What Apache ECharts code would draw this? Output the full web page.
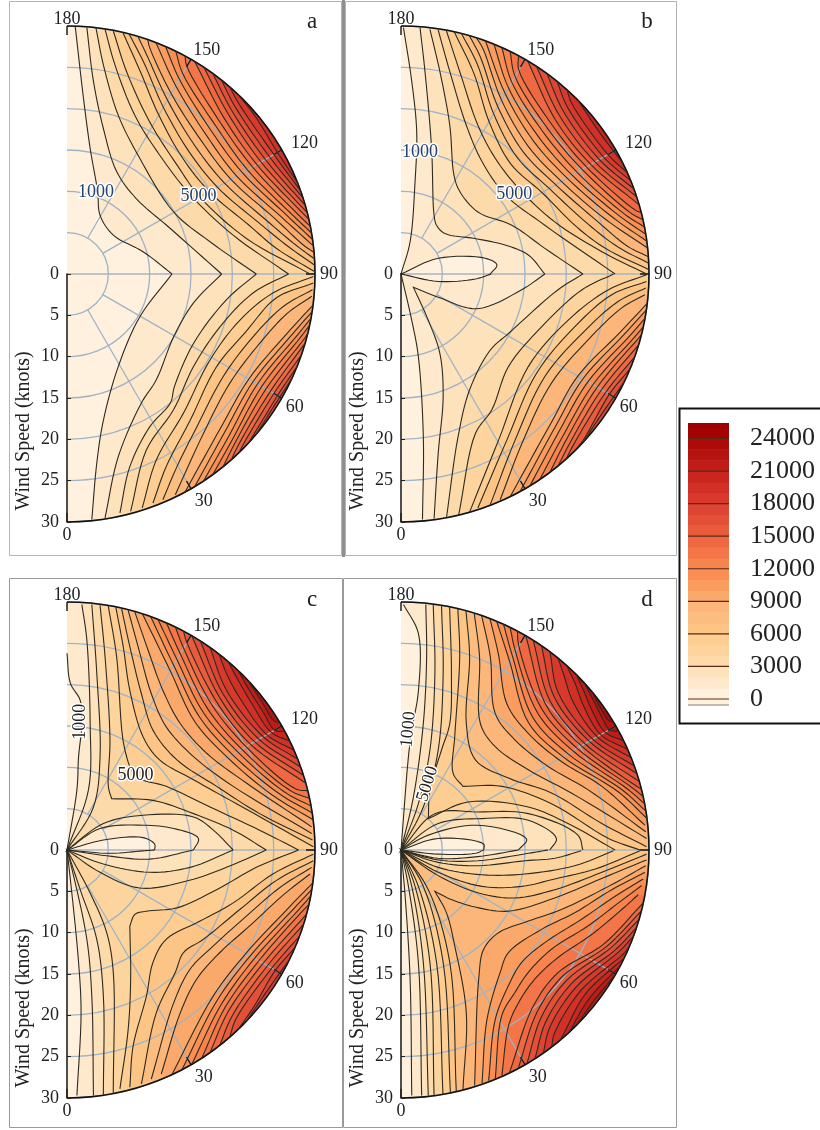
<!DOCTYPE html>
<html><head><meta charset="utf-8">
<style>html,body{margin:0;padding:0;background:#fff}#c{width:820px;height:1130px}</style>
<script src="https://cdn.jsdelivr.net/npm/echarts@6/dist/echarts.min.js"></script>
</head><body><div id="c"></div>
<script>
// Angle and speed ticks
const angleTicks=[0,30,60,90,120,150,180];
const speedTicks=[0,5,10,15,20,25,30];
const spokeAngles=[30,60,120,150];
const legendTicks=[0,3000,6000,9000,12000,15000,18000,21000,24000];
// Where each angle label sits: speed, angle
const angleLabelSpots=[[31.6,0],[32.1,31],[31.9,59.7],[31.7,90],[32.8,118.8],[31.9,148],[30.8,180]];
// One band colour per 1000 of the field value
const bandColors=['#fff1dd','#fee9cc','#fee2bb','#fddaa9','#fdd49d','#fdcd91','#fdc585','#fcbe80','#fcb679','#fba96b','#fb9c5f','#f98f54','#f7834d','#f47548','#ef6842','#ea5b3c','#e44f38','#de4433','#d9392d','#d22f26','#ca251f','#c01b17','#b71310','#ad0b08','#a30403','#9c0000'];
// Inner contours: row n is level (n+1)*1000, as x,y,x,y... wind components in knots
// (x = beam component, y = positive towards 180). A repeated point is a corner.
// The *Outer lists carry on with the next levels, as speed,angle,speed,angle...
const aUpper=[
[1,29.9,2,21.2,2.8,15.2,3.7,10,4,7.1,5.6,4.7,9.2,2.7,12.7,0],
[2.4,29.8,3.2,23.3,4.4,17.6,6,12.4,8.4,9.1,12.5,5.5,18.7,0],
[3.5,29.8,4.4,25.3,6.2,19.2,8.8,14,12.9,7.5,17.3,3.9,22.9,0],
[4.6,29.6,5.8,25.3,8.2,19.2,11.2,14.4,14.9,9.6,20.1,4.7,26.8,0],
[5.6,29.4,7.2,24.5,10,18.4,13.3,13.2,16.1,9.3,21.7,4.3,29.4,0]];
const aUpperOuter=[
[30,167,26,160,22.2,150,19.8,135,19.9,120,22.8,105,25.5,97,30,90.5],
[30,165.5,27.2,160,23.3,150,20.9,135,21,120,24,105,27,97,30,92],
[30,163.4,28.2,160,24.3,150,21.9,135,22,120,25,105,28,97,30,93.5],
[30,161,29.2,160,25.2,150,22.9,135,22.9,120,26,105,28.8,97,30,95],
[30,159,26.3,150,23.8,135,23.7,120,26.8,105,30,96.5],
[30,156.6,27.2,150,24.6,135,24.5,120,27.5,105,30,98],
[30,154,28,150,25.4,135,25.2,120,28.1,105,30,99.5],
[30,151.6,29,150,26.1,135,25.9,120,28.7,105,30,101],
[30,149,26.8,135,26.5,120,29.3,105,30,102.7],
[30,146.5,27.5,135,27.1,120,29.8,105,30,104.3],
[30,144,28.1,135,27.7,120,30,106],
[30,141.5,28.7,135,28.3,120,30,107.8],
[30,139,29.3,135,28.9,120,30,109.6],
[30,136.5,29.7,130,29.4,120,30,111.5]];
const aLower=[
[12.7,0,8.8,-5.2,6.2,-11.2,4.4,-17.7,3.6,-22.9,3,-29.7],
[18.7,0,15.3,-3.5,12.9,-7.6,10.8,-12.8,9,-15.6,6.2,-22.1,4.6,-29.5],
[22.9,0,19.3,-3.1,15.3,-8.4,13,-13.6,12.5,-15.6,10,-18.5,7.6,-23.3,6.4,-28.9],
[26.8,0,22.5,-2.3,18.5,-6.4,15.3,-11.2,12.9,-16.4,9.6,-21.3,7.7,-28.7],
[29.8,-.3,24.9,-2.3,20.9,-5.6,17.3,-10.4,14.1,-16.8,10.8,-22.5,9.1,-28.3],
[29.8,-1.1,25.3,-2.9,21.7,-6.9,18.1,-11.2,14.9,-17.7,12,-23.3,10.4,-27.7],
[29.7,-1.9,26.2,-3.9,22.5,-7.6,18.9,-12.4,15.7,-18.5,13.3,-23.3,11.6,-27.3],
[29.6,-2.7,26.6,-4.8,23.3,-8.4,19.7,-13.2,16.5,-19.3,13.1,-26.7]];
const aLowerOuter=[
[30,82.8,27.6,75,25.4,60,26.3,45,30,28.4],
[30,81.3,28.2,75,26,60,27,45,30,31],
[30,79.7,28.8,75,26.6,60,27.7,45,30,33.4],
[30,78.1,29.3,75,27.2,60,28.3,45,30,36],
[30,76.2,29.8,75,27.8,60,28.8,45,30,39],
[30,73.8,28.4,60,29.3,45,30,41.5],
[30,70.9,28.9,60,29.8,45,30,44],
[30,68.1,29.4,60,29.6,52,30,47],
[30,65.1,29.7,57,30,49.8]];
const bUpper=[
[.3,29.8,1.3,23.3,1.9,17.2,1.7,11.2,1.1,3.9,0,0,0,0,4.5,1.9,10.2,1.9,11.6,1.1,10.8,0],
[2.3,29.8,2.9,24.5,3.7,15.2,4,7.1,4.3,5.9,5.3,4.9,8.9,4.3,12.6,3.5,15.4,2.3,17.4,0],
[3.5,29.6,4.7,24.5,5.9,18,6.4,12,7.1,10,9.3,7.5,13.4,5.9,17.4,3.1,22,0],
[4.5,29.5,5.9,24.5,7.9,18,9.8,13.6,12.6,9.6,17.4,5.9,25.9,0],
[5.5,29.4,7.1,24.5,9.3,18,11.4,14,14.2,10.4,18.6,6.3,24.3,2.7,29.7,0]];
const bUpperOuter=[
[30,167.6,25.8,160,21.3,150,18.8,135,19.7,120,22,105,25,97,30,91],
[30,165.9,27,160,22.4,150,19.9,135,20.7,120,23.4,105,26.5,97,30,92.5],
[30,164,28,160,23.4,150,20.9,135,21.6,120,24.6,105,27.6,97,30,94],
[30,162.3,29,160,24.3,150,21.8,135,22.4,120,25.6,105,30,96],
[30,160.1,25.2,150,22.7,135,23.2,120,26.5,105,30,97.6],
[30,158,26,150,23.5,135,23.9,120,27.3,105,30,99.2],
[30,156,26.8,150,24.3,135,24.6,120,28,105,30,100.9],
[30,153.9,27.6,150,25,135,25.3,120,28.7,105,30,102.6],
[30,151.7,28.5,150,25.7,135,25.9,120,29.5,105,30,104.4],
[30,149.3,26.4,135,26.5,120,30,106.2],
[30,146.9,27.1,135,27.1,120,30,108.1],
[30,144,27.8,135,27.7,120,30,110],
[30,141,28.5,135,28.3,120,30,112],
[30,138,29.2,135,28.9,120,30,114.1],
[30,134.5,29.5,125,30,116.5]];
const bLower=[
[10.9,0,9,-.6,4.5,-.9,0,0,0,0,1.3,-5.6,2.1,-10,2.7,-19.7,2.6,-29.7],
[17.4,0,14.6,-1.9,9.2,-4.2,4.5,-2.8,1.5,-1.6,1.5,-1.6,3.3,-5.6,4.7,-9.6,5.1,-14.8,4.5,-21.7,4,-29.6],
[22,0,19,-1.9,13,-7.2,10.8,-9.2,8.3,-14,6.9,-19.7,5.5,-29.5],
[25.7,0,21.9,-1.9,17,-6.4,13,-11.2,11,-16.4,9,-19.3,7,-29.3],
[29.7,-.1,25.1,-1.9,20.2,-5.6,15.4,-11.2,11.8,-20.1,8.3,-28.9],
[29.7,-.9,25.5,-2.5,21,-6.4,16.4,-12,12.8,-20.1,9.3,-28.3],
[29.6,-1.7,26.3,-3.3,21.9,-7.2,17.4,-12.4,13.8,-20.1,10.8,-27.9],
[29.5,-2.5,26.7,-4.1,22.6,-8,18.2,-13.2,14.8,-20.1,12,-27.3]];
const bLowerOuter=[
[30,83.2,27.4,75,24.7,60,25.6,45,30,26.1],
[30,81.7,28,75,25.4,60,26.3,45,30,28.7],
[30,79.7,28.7,75,26.1,60,27,45,30,31.3],
[30,77.7,29.3,75,26.8,60,27.7,45,30,34],
[30,75.8,29.8,75,27.4,60,28.3,45,30,36.9],
[30,73.4,28,60,28.9,45,30,39.3],
[30,70.5,28.6,60,29.4,45,30,41.8],
[30,67.6,29.1,60,29.8,48,30,44.4],
[30,64.3,29.6,55,30,47.4]];
const cUpper=[
[0,23.8,.4,20.2,1.6,18.1,1.8,15.3,1.4,11.3,1.2,7.3,0,0,0,0,4.4,1.2,9.2,1.5,10.6,.7,10.6,0],
[1.8,29.7,2.4,25.4,2.8,15.3,2.6,7.3,0,0,0,0,4,2.6,9.2,3,12.9,2.6,15.9,1.4,15.3,0],
[3,29.7,3.6,21.4,4,11.3,3.2,5.2,0,0,0,0,4.4,3.2,9.2,4.2,15.3,4,17.7,2.4,20.1,0],
[4,29.6,4.6,23.4,5.2,13.3,5,7.7,5.4,6.2,5.4,6.2,10.4,6,15.3,4.4,20.1,2.4,24.1,0],
[5,29.5,6,23.4,7,12.1,8.4,8.9,12,7.7,17.3,5.2,23.3,2.4,28,0],
[5.9,29.4,6.8,24.6,7.6,19.3,9.2,13.7,11.2,10.9,15.3,8.5,20.5,5.6,29.8,.4],
[6.6,29.2,7.6,24.6,9,18.9,10.4,14.5,13.3,10.9,18.1,7.7,23.3,4.4,29.7,1.2],
[7.4,29,8.6,24.6,10.2,18.9,12,14.9,15.3,11.3,20.1,7.7,29.6,2],
[8.2,28.8,9.8,24.2,11.6,19.3,13.7,15.3,16.9,11.7,21.7,8.1,29.6,2.8]];
const cUpperOuter=[
[30,162.3,25,150,21.9,135,22.4,120,25.7,105,30,97],
[30,160.3,25.8,150,22.7,135,23.1,120,26.5,105,30,98.6],
[30,158.5,26.6,150,23.4,135,23.8,120,27.2,105,30,100.2],
[30,156.4,27.4,150,24.1,135,24.4,120,27.9,105,30,102],
[30,154.1,28.2,150,24.8,135,25,120,28.6,105,30,103.8],
[30,152,29,150,25.5,135,25.6,120,30,105.6],
[30,149.8,26.1,135,26.2,120,30,107.5],
[30,147.5,26.7,135,26.8,120,30,109.5],
[30,144.8,27.3,135,27.4,120,30,111.5],
[30,142.2,28.8,138,27.9,132,27.9,120,30,113.7],
[30,139.5,29.2,135,28.5,128,28.5,120,30,116],
[30,136.4,29.4,132,29,125,29,120,30,118.5],
[30,133.1,29.6,127,29.5,122,30,121]];
const cLower=[
[10.6,0,9.2,-.1,5.2,-.4,0,0,0,0,.4,-3.5,1.4,-13.6,1.7,-19.7,1.2,-29.7],
[15.3,0,10,-1.1,4.8,-.7,0,0,0,0,.6,-2.3,2.4,-10.8,3,-17.7,3.2,-29.7],
[20.1,0,14.9,-2.1,10,-2.7,4.4,-1.7,0,0,0,0,1.6,-4.8,3.6,-10.8,4.4,-17.7,4.4,-29.7],
[24.1,0,19.3,-2.1,14.7,-3.7,8.8,-4.6,4,-2.7,0,0,0,0,2.8,-5.2,4.8,-10,5.6,-14.8,5.6,-29.5],
[28,0,22.9,-2.1,18.1,-4.8,13.3,-7,9.6,-7.4,8.2,-7.8,7.6,-9.2,7.6,-9.2,7.7,-15.6,7.4,-21.7,6.4,-28.9],
[29.8,-.5,24.9,-2.9,20.1,-6.4,16.1,-8.6,12,-10.8,10.4,-13.6,9.6,-17.7,8,-23.7,7.6,-28.7],
[29.8,-1.3,25.3,-3.7,20.9,-7.2,16.5,-10.8,14.1,-12.4,13.1,-14.8,10.8,-19.7,9,-28.3],
[29.6,-2.1,25.8,-4.5,21.7,-8,17.7,-11.6,14.9,-14.4,12.9,-18.5,10.2,-27.7],
[29.4,-2.9,26.2,-5.4,22.3,-9,18.5,-12.4,15.7,-15.6,13.7,-19.7,11.4,-27.1]];
const cLowerOuter=[
[30,82.4,27.6,75,25,60,25,45,30,25],
[30,80.9,28.2,75,25.6,60,25.7,45,30,27.6],
[30,79.3,28.8,75,26.2,60,26.4,45,30,30.2],
[30,77.3,29.3,75,26.8,60,27,45,30,32.9],
[30,75,27.4,60,27.6,45,30,35.2],
[30,72.6,28,60,28.3,45,30,38],
[30,69.7,28.6,60,28.9,45,30,41],
[30,66.8,29.1,60,29.5,50,30,43.6],
[30,63.8,29.6,56,30,46.3]];
const dUpper=[
[.3,29.7,2.1,26.2,2.1,19.2,1.3,14.5,.9,11.3,0,0,0,0,4.5,1.4,10,.7,10,0],
[3,29.7,3.1,23.4,2.7,15.3,1.5,6.4,0,0,0,0,3.3,1.8,9.3,3,15.2,1.3,14.2,0],
[3.9,29.7,4.1,21.4,3.5,12.1,2.1,5.6,0,0,0,0,4.5,3.2,9.8,3.8,15.4,3.6,18.8,1.4,18,0],
[4.9,29.6,5.1,21.4,4.5,12.1,2.7,5.2,0,0,0,0,4.1,4.4,9.3,4.6,15.4,4.4,21.4,1.8,22,0],
[5.9,29.5,6.1,21.4,5.9,15.3,4.9,12.1,3.5,7.3,3.3,3.8,3.3,3.8,8.1,5.8,15.4,5.2,20.2,3.2,25.9,0],
[6.9,29.3,7.1,23.4,6.5,13.7,6.3,9.3,7.5,7.7,7.5,7.7,12.2,7.7,18.2,5.6,25.1,1.4,28.9,0],
[7.9,29.1,8.3,23.4,7.9,15.3,9,10.9,13,8.7,18.2,6.9,24.3,3.2,29.7,.4],
[8.9,28.8,9.5,23.4,9.6,15.3,11.4,12.5,15.4,9.7,20.6,6.9,29.7,1.4],
[9.8,28.5,10.8,23.4,11.4,16.5,13.8,13.3,17.8,10.1,22.6,7.3,29.6,2.2],
[10.8,28.1,11.8,23.6,12.8,17.7,15.4,14.1,19.4,10.7,24.3,7.7,29.5,3]];
const dUpperOuter=[
[30,157.3,26.3,150,21.8,135,22.6,120,27.2,105,30,97.3],
[30,155.6,27,150,22.6,135,23.3,120,27.8,105,30,99],
[30,153.9,27.7,150,23.4,135,24,120,28.4,105,30,100.7],
[30,152,28.5,150,24.1,135,24.6,120,29,105,30,102.4],
[30,149.8,24.8,135,25.2,120,29.6,105,30,104.2],
[30,147.8,25.5,135,25.7,120,30,106],
[30,145.5,26.2,135,26.3,120,30,107.9],
[30,143.1,26.9,135,26.8,120,30,109.8],
[30,140.7,28.9,137,27.5,131,27.4,120,30,111.8],
[30,138.2,29.2,134,28.1,128,27.9,120,30,113.9],
[30,135,29.3,131,28.6,126,28.5,120,30,116.1],
[30,132.3,29.5,128,29.1,123,29.1,120,30,118.5],
[30,129.5,29.6,125,29.6,122,30,121]];
const dLower=[
[10,0,9,-.4,4.5,-.5,0,0,0,0,.5,-5.6,1.1,-15.6,1.3,-29.7],
[14.2,0,9.3,-.8,4.5,-1,0,0,0,0,.9,-4.4,2.1,-13.6,2.5,-29.7],
[17.8,0,15.4,-.4,9.3,-1.3,4.5,-1.2,0,0,0,0,1.3,-4.4,2.7,-13.6,3.3,-29.7],
[21.8,-.1,18.6,-1,15,-1.3,9.3,-1.9,4.5,-1.5,0,0,0,0,1.7,-4.4,3.5,-13.6,4,-29.7],
[25.7,-.1,21,-1.9,15,-2.9,9.8,-3,4.5,-2.1,0,0,0,0,2.1,-4.4,4.3,-13.6,5.1,-29.7],
[28.9,-.1,23.5,-2.3,18.6,-3.5,14.6,-4.4,9.8,-4.4,4.5,-2.7,0,0,0,0,2.7,-4.4,5.1,-13.6,6,-29.5],
[29.7,-.5,24.3,-2.7,18.6,-4.8,13.8,-5.8,9.4,-5.2,4.5,-3.1,0,0,0,0,3.3,-4.8,5.9,-13.6,6.7,-29.3],
[29.7,-1.2,25.1,-3.1,18.6,-5.8,13,-7.4,9.4,-7,6.1,-6,4.1,-5,4.1,-5,5.5,-7.6,6.5,-11.6,7.9,-19.7,7.5,-28.9],
[29.6,-1.9,25.1,-4.4,19.4,-7.2,15.4,-8.6,11.8,-10,10,-12,9.4,-15.6,8.9,-28.5],
[29.5,-2.7,25.5,-4.8,21,-7.6,17,-9.6,13,-12.4,12,-14.8,10.4,-20.5,9.8,-28.2],
[29.3,-3.5,25.9,-5.6,21.8,-8.4,17.4,-11.2,14.6,-13.6,13,-16.4,11.4,-20.5,10.6,-27.9],
[29.1,-4.3,26.3,-6.4,22.6,-9.2,18.2,-12,15.4,-14.8,13.8,-17.2,12.2,-20,11.4,-27.7],
[28.7,-5.4,26.7,-7.2,23.1,-10.2,19,-13,16.2,-15.6,14.2,-18.5,13,-21.3,12.2,-27.3]];
const dLowerOuter=[
[30,77.7,27,65,24.1,52,24.8,40,30,25.9],
[30,75.8,27.5,65,24.8,52,25.6,40,30,28.2],
[30,73.8,28,65,25.5,52,26.4,40,30,30.5],
[30,71.8,28.6,65,26.2,52,27.2,40,30,32.7],
[30,69.7,29.1,65,26.9,52,28,40,30,35],
[30,67.2,29.7,65,27.6,52,28.9,40,30,37.4],
[30,64.3,28.3,52,29.6,42,30,40],
[30,62.1,29,52,30,42.6],
[30,59.9,29.6,52,30,45.3]];
// Contour labels: text, x, y (knots), rotation in degrees
const labelsA=[['1000',3.5,9.9,0],['5000',15.9,9.4,0]];
const labelsB=[['1000',2.3,14.7,0],['5000',13.7,9.6,0]];
const labelsC=[['1000',1.6,15.5,90],['5000',8.3,9,0]];
const labelsD=[['1000',.9,14.6,85],['5000',3.2,8,72]];
const panelLetters=['a','b','c','d'];
const panelData=[
 [aUpper,aUpperOuter,aLower,aLowerOuter,labelsA],
 [bUpper,bUpperOuter,bLower,bLowerOuter,labelsB],
 [cUpper,cUpperOuter,cLower,cLowerOuter,labelsC],
 [dUpper,dUpperOuter,dLower,dLowerOuter,labelsD]];

const SERIF='"Liberation Serif","Times New Roman",serif';
const centers=[[67,274],[401,274],[67,850],[401,850]];
const RADIUS_PX=248,RMAX=30;
function polar(x,y){let r=Math.hypot(x,y);if(r>RMAX)r=RMAX;const t=Math.atan2(x,-y)*180/Math.PI;return [r,r===0?90:t];}
function fromXY(flat){const o=[];for(let i=0;i<flat.length;i+=2)o.push(polar(flat[i],flat[i+1]));return o;}
function fromPolar(flat){const o=[];for(let i=0;i<flat.length;i+=2)o.push([flat[i],flat[i+1]]);return o;}
const same=(p,q)=>p[0]===q[0]&&p[1]===q[1];
const lerp=(p,q,u)=>[p[0]+(q[0]-p[0])*u,p[1]+(q[1]-p[1])*u];
// Centripetal Catmull-Rom through the screen points of a contour, kept inside the outer circle
function curve(p,c){
  const out=[p[0]];
  for(let i=0;i<p.length-1;i++){
    const b=p[i],e=p[i+1];
    if(same(b,e))continue;
    let a=p[Math.max(i-1,0)],d=p[Math.min(i+2,p.length-1)];
    if(same(a,b))a=[2*b[0]-e[0],2*b[1]-e[1]];
    if(same(d,e))d=[2*e[0]-b[0],2*e[1]-b[1]];
    const t1=Math.sqrt(Math.hypot(b[0]-a[0],b[1]-a[1])),t2=t1+Math.sqrt(Math.hypot(e[0]-b[0],e[1]-b[1])),t3=t2+Math.sqrt(Math.hypot(d[0]-e[0],d[1]-e[1]));
    for(let s=1;s<=8;s++){
      const t=t1+(t2-t1)*s/8;
      const A1=lerp(a,b,t/t1),A2=lerp(b,e,(t-t1)/(t2-t1)),A3=lerp(e,d,(t-t2)/(t3-t2));
      const B1=lerp(A1,A2,t/t2),B2=lerp(A2,A3,(t-t1)/(t3-t1));
      let q=lerp(B1,B2,(t-t1)/(t2-t1));
      const dx=q[0]-c[0],dy=q[1]-c[1],h=Math.hypot(dx,dy);
      if(h>RADIUS_PX)q=[c[0]+dx*RADIUS_PX/h,c[1]+dy*RADIUS_PX/h];
      out.push(q);
    }
  }
  return out;
}
function closure(api,pts){
  const first=pts[0],last=pts[pts.length-1],o=[];
  const n=Math.max(2,Math.ceil(Math.abs(first[1]-last[1])/2));
  for(let i=0;i<=n;i++)o.push(api.coord([RMAX,last[1]+(first[1]-last[1])*i/n]));
  return o;
}
const series=[],polars=[],angleAxes=[],radiusAxes=[];
panelData.forEach((pd,pi)=>{
  const c=centers[pi];
  polars.push({center:c,radius:RADIUS_PX});
  angleAxes.push({polarIndex:pi,type:'value',min:0,max:180,interval:30,startAngle:-90,endAngle:90,clockwise:false,z:3,
    axisLine:{show:true,lineStyle:{color:'#111',width:1.6}},
    axisTick:{show:true,inside:true,length:9,lineStyle:{color:'#111',width:1.4}},
    splitLine:{show:false},axisLabel:{show:false}});
  radiusAxes.push({polarIndex:pi,type:'value',min:0,max:30,interval:5,z:3,
    axisLine:{show:true,lineStyle:{color:'#222',width:1.6}},
    axisTick:{show:true,length:4,lineStyle:{color:'#222'}},
    splitLine:{show:true,lineStyle:{color:'#9db3c8',width:1.3}},
    axisLabel:{show:false}});
  const rows=[];
  [[pd[0],pd[1]],[pd[2],pd[3]]].forEach(h=>{
    h[0].forEach((f,i)=>rows.push({pts:fromXY(f),lv:i+1}));
    h[1].forEach((f,i)=>rows.push({pts:fromPolar(f),lv:h[0].length+i+1}));
  });
  rows.sort((a,b)=>a.lv-b.lv);
  const data=rows.map((r,i)=>[r.pts[0][0],r.pts[0][1],i]);
  series.push({type:'custom',coordinateSystem:'polar',polarIndex:pi,z:1,silent:true,animation:false,
    data:[[0,0,-1]].concat(data),encode:{radius:0,angle:1},
    renderItem(params,api){
      const k=api.value(2);
      if(k<0){const base=[];for(let t=0;t<=180;t+=2)base.push(api.coord([RMAX,t]));
        return {type:'polygon',shape:{points:base},style:{fill:bandColors[0]}};}
      const r=rows[k],line=curve(r.pts.map(p=>api.coord(p)),c);
      return {type:'polygon',shape:{points:line.concat(closure(api,r.pts))},style:{fill:bandColors[r.lv],stroke:null}};
    }});
  // grid spokes
  spokeAngles.forEach(a=>series.push({type:'line',coordinateSystem:'polar',polarIndex:pi,z:2,silent:true,animation:false,symbol:'none',
    data:[[speedTicks[1],a],[speedTicks[6],a]],lineStyle:{color:'#9db3c8',width:1.3}}));
  series.push({type:'line',coordinateSystem:'polar',polarIndex:pi,z:2,silent:true,animation:false,symbol:'none',
    data:[[speedTicks[0],90],[speedTicks[6],90]],lineStyle:{color:'#a9b4bc',width:1.3}});
  series.push({type:'custom',coordinateSystem:'polar',polarIndex:pi,z:4,silent:true,animation:false,
    data:data,encode:{radius:0,angle:1},
    renderItem(params,api){
      const r=rows[api.value(2)],line=curve(r.pts.map(p=>api.coord(p)),c);
      return {type:'polyline',shape:{points:line},style:{fill:null,stroke:'#2e2a20',lineWidth:1.1}};
    }});
  const labs=pd[4];
  series.push({type:'custom',coordinateSystem:'polar',polarIndex:pi,z:5,silent:true,animation:false,
    data:labs.map((l,i)=>{const q=polar(l[1],l[2]);return [q[0],q[1],i];}),encode:{radius:0,angle:1},
    renderItem(params,api){
      const l=labs[api.value(2)],q=api.coord([api.value(0),api.value(1)]);
      return {type:'text',x:q[0],y:q[1],rotation:l[3]*Math.PI/180,
        style:{text:l[0],fontFamily:SERIF,fontSize:18,fill:pi<2?'#23406e':'#222',stroke:'#fff',lineWidth:3,align:'center',verticalAlign:'middle'}};
    }});
  // speed labels left of the axis, angle labels round the rim
  series.push({type:'custom',coordinateSystem:'polar',polarIndex:pi,z:5,silent:true,animation:false,clip:false,
    data:speedTicks.map(v=>[v,0]),encode:{radius:0,angle:1},
    renderItem(params,api){
      const q=api.coord([api.value(0),api.value(1)]);
      return {type:'text',x:q[0]-8,y:q[1],style:{text:String(api.value(0)),fontFamily:SERIF,fontSize:18,fill:'#222',align:'right',verticalAlign:'middle'}};
    }});
  series.push({type:'custom',coordinateSystem:'polar',polarIndex:pi,z:5,silent:true,animation:false,clip:false,
    data:angleLabelSpots.map((s,i)=>[s[0],s[1],angleTicks[i]]),encode:{radius:0,angle:1},
    renderItem(params,api){
      const q=api.coord([api.value(0),api.value(1)]);
      return {type:'text',x:q[0],y:q[1],style:{text:String(api.value(2)),fontFamily:SERIF,fontSize:18,fill:'#222',align:'center',verticalAlign:'middle'}};
    }});
});
// Legend bar
const legendBands=bandColors.map((c,i)=>[i*1000,(i+1)*1000,i]);
legendBands[25][1]=25430;
legendBands.unshift([-553,0,0]);
series.push({type:'custom',coordinateSystem:'cartesian2d',xAxisIndex:0,yAxisIndex:0,silent:true,animation:false,
  data:legendBands,encode:{y:[0,1]},
  renderItem(params,api){
    const a=api.coord([0,api.value(0)]),b=api.coord([1,api.value(1)]);
    const kids=[{type:'rect',shape:{x:a[0],y:b[1],width:b[0]-a[0],height:a[1]-b[1]+.5},style:{fill:bandColors[api.value(2)]}}];
    if(legendTicks.includes(api.value(0)))kids.push({type:'line',shape:{x1:a[0],y1:a[1],x2:b[0],y2:a[1]},style:{stroke:'#5a2a18',lineWidth:1.2}});
    if(api.value(0)<0)kids.push({type:'line',shape:{x1:a[0],y1:a[1],x2:b[0],y2:a[1]},style:{stroke:'#8a8078',lineWidth:1}});
    return {type:'group',children:kids};
  }});
const frame=(x,y,w,h,c,lw)=>({type:'rect',shape:{x,y,width:w,height:h},style:{fill:'none',stroke:c,lineWidth:lw}});
const letterPos=[[312,22],[647,22],[312,600],[647,600]];
const graphic=[
  frame(9.5,1.5,332,554,'#b4b4b4',1),frame(345.5,1.5,331,554,'#b4b4b4',1),
  {type:'rect',shape:{x:342,y:0,width:3,height:557},style:{fill:'#8f8f8f'}},
  frame(9.5,578.5,333,549,'#9a9a9a',1),frame(343.5,578.5,333,549,'#9a9a9a',1),
  frame(679.5,408.5,142,315,'#111',2)
];
letterPos.forEach((p,i)=>graphic.push({type:'text',x:p[0],y:p[1],style:{text:panelLetters[i],fontFamily:SERIF,fontSize:23,fill:'#222',align:'center',verticalAlign:'middle'}}));
[[24,431],[358,431],[24,1008],[358,1008]].forEach(p=>graphic.push({type:'text',x:p[0],y:p[1],rotation:Math.PI/2,
  style:{text:'Wind Speed (knots)',fontFamily:SERIF,fontSize:20,fill:'#222',align:'center',verticalAlign:'middle'}}));
const chart=echarts.init(document.getElementById('c'),null,{renderer:'canvas',width:820,height:1130});
chart.setOption({animation:false,backgroundColor:'#fff',
  polar:polars,angleAxis:angleAxes,radiusAxis:radiusAxes,
  grid:[{left:688,top:423,width:41,height:282,containLabel:false}],
  xAxis:[{type:'value',min:0,max:1,show:false}],
  yAxis:[{type:'value',min:-553,max:25430,position:'right',
    axisLine:{show:false},axisTick:{show:false},splitLine:{show:false},
    axisLabel:{show:true,margin:21,color:'#222',fontFamily:SERIF,fontSize:26,customValues:legendTicks,formatter:v=>String(v)}}],
  graphic,series});
</script></body></html>
